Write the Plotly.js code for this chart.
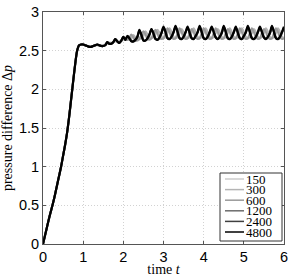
<!DOCTYPE html>
<html>
<head>
<meta charset="utf-8">
<script src="https://cdn.plot.ly/plotly-3.0.1.min.js"></script>
<style>html,body{margin:0;padding:0;background:#fff;}#chart{width:291px;height:277px;}</style>
</head>
<body>
<div id="chart"></div>
<script>
// time axis (t)
var time = [0.00,0.05,0.10,0.15,0.20,0.25,0.30,0.35,0.40,0.45,0.50,0.55,0.60,0.65,0.70,0.75,0.80,0.85,0.90,0.95,
1.00,1.05,1.10,1.15,1.20,1.25,1.30,1.35,1.40,1.45,1.50,1.55,1.60,1.65,1.70,1.75,1.80,1.85,1.90,1.95,
2.00,2.05,2.10,2.15,2.20,2.25,2.30,2.35,2.40,2.45,2.50,2.55,2.60,2.65,2.70,2.75,2.80,2.85,2.90,2.95,
3.00,3.05,3.10,3.15,3.20,3.25,3.30,3.35,3.40,3.45,3.50,3.55,3.60,3.65,3.70,3.75,3.80,3.85,3.90,3.95,
4.00,4.05,4.10,4.15,4.20,4.25,4.30,4.35,4.40,4.45,4.50,4.55,4.60,4.65,4.70,4.75,4.80,4.85,4.90,4.95,
5.00,5.05,5.10,5.15,5.20,5.25,5.30,5.35,5.40,5.45,5.50,5.55,5.60,5.65,5.70,5.75,5.80,5.85,5.90,5.95,6.00];

var p150 = [0.00,0.11,0.22,0.33,0.43,0.53,0.64,0.76,0.88,1.00,1.14,1.28,1.44,1.64,1.87,2.10,2.32,2.50,2.57,2.58,
2.58,2.57,2.56,2.56,2.56,2.56,2.57,2.57,2.57,2.57,2.57,2.58,2.59,2.60,2.60,2.61,2.62,2.62,2.62,2.63,
2.64,2.65,
2.65,2.65,2.66,2.68,2.67,2.66,
2.67,2.67,2.69,2.72,2.70,2.68,
2.68,2.68,2.71,2.75,2.72,2.69,
2.67,2.69,2.73,2.77,2.73,2.68,
2.67,2.69,2.73,2.76,2.73,2.68,
2.67,2.69,2.73,2.77,2.73,2.68,
2.67,2.69,2.73,2.77,2.73,2.68,
2.67,2.69,2.73,2.76,2.73,2.68,
2.67,2.69,2.73,2.77,2.73,2.68,
2.67,2.69,2.73,2.77,2.73,2.68,
2.67,2.69,2.73,2.76,2.73,2.68,
2.67,2.69,2.73,2.77,2.73,2.68,
2.67,2.69,2.73,2.77,2.73,2.68,
2.67];

var p300 = [0.00,0.11,0.22,0.33,0.43,0.53,0.64,0.76,0.88,1.00,1.14,1.28,1.44,1.64,1.87,2.10,2.32,2.50,2.57,2.58,
2.58,2.57,2.56,2.56,2.55,2.56,2.57,2.57,2.57,2.57,2.57,2.58,2.60,2.60,2.60,2.61,2.63,2.62,2.61,2.63,
2.66,2.65,
2.64,2.65,2.67,2.70,2.67,2.65,
2.65,2.67,2.71,2.75,2.71,2.66,
2.66,2.68,2.73,2.77,2.73,2.67,
2.66,2.68,2.74,2.79,2.74,2.67,
2.66,2.68,2.74,2.78,2.74,2.67,
2.66,2.68,2.74,2.79,2.74,2.67,
2.66,2.68,2.74,2.79,2.74,2.67,
2.66,2.68,2.74,2.78,2.74,2.67,
2.66,2.68,2.74,2.79,2.74,2.67,
2.66,2.68,2.74,2.79,2.74,2.67,
2.66,2.68,2.74,2.78,2.74,2.67,
2.66,2.68,2.74,2.79,2.74,2.67,
2.66,2.68,2.74,2.79,2.74,2.67,
2.66];

var p600 = [0.00,0.11,0.22,0.33,0.43,0.53,0.64,0.76,0.88,1.00,1.14,1.28,1.44,1.64,1.87,2.10,2.32,2.50,2.57,2.58,
2.58,2.57,2.56,2.55,2.55,2.56,2.57,2.58,2.57,2.56,2.56,2.57,2.60,2.59,2.59,2.61,2.64,2.62,2.60,2.63,
2.67,2.64,
2.64,2.67,2.71,2.67,2.63,2.63,
2.65,2.70,2.75,2.71,2.65,2.64,
2.66,2.72,2.77,2.72,2.66,2.65,
2.66,2.73,2.79,2.74,2.67,2.65,
2.66,2.73,2.79,2.74,2.67,2.65,
2.66,2.73,2.78,2.74,2.67,2.65,
2.66,2.73,2.79,2.74,2.67,2.65,
2.66,2.73,2.79,2.74,2.67,2.65,
2.66,2.73,2.78,2.74,2.67,2.65,
2.66,2.73,2.79,2.74,2.67,2.65,
2.66,2.73,2.79,2.74,2.67,2.65,
2.66,2.73,2.78,2.74,2.67,2.65,
2.66,2.73,2.79,2.74,2.67,2.65,
2.66];

var p1200 = [0.00,0.11,0.22,0.33,0.43,0.53,0.64,0.76,0.88,1.00,1.14,1.28,1.44,1.64,1.87,2.10,2.32,2.50,2.57,2.58,
2.58,2.57,2.56,2.55,2.55,2.56,2.57,2.58,2.57,2.56,2.56,2.57,2.61,2.59,2.59,2.61,2.65,2.62,2.60,2.63,
2.68,2.64,
2.68,2.67,2.63,2.62,2.63,2.67,
2.75,2.72,2.64,2.63,2.65,2.70,
2.77,2.74,2.66,2.64,2.66,2.72,
2.79,2.76,2.67,2.65,2.67,2.73,
2.80,2.76,2.67,2.65,2.67,2.73,
2.79,2.75,2.67,2.65,2.68,2.73,
2.80,2.76,2.67,2.65,2.67,2.73,
2.79,2.76,2.68,2.65,2.67,2.72,
2.80,2.76,2.67,2.65,2.67,2.73,
2.79,2.75,2.67,2.65,2.68,2.73,
2.80,2.76,2.67,2.65,2.67,2.73,
2.79,2.76,2.68,2.65,2.67,2.72,
2.80,2.76,2.67,2.65,2.67,2.73,
2.79];

var p2400 = [0.00,0.11,0.22,0.33,0.43,0.53,0.64,0.76,0.88,1.00,1.14,1.28,1.44,1.64,1.87,2.10,2.32,2.50,2.57,2.58,
2.58,2.57,2.56,2.55,2.55,2.56,2.57,2.58,2.57,2.56,2.56,2.57,2.61,2.59,2.59,2.61,2.65,2.62,2.60,2.63,
2.68,2.64,
2.69,2.66,2.62,2.62,2.64,2.68,
2.76,2.70,2.63,2.63,2.66,2.71,
2.78,2.72,2.65,2.64,2.67,2.73,
2.80,2.74,2.66,2.65,2.68,2.74,
2.81,2.74,2.66,2.65,2.68,2.74,
2.80,2.73,2.66,2.65,2.69,2.74,
2.81,2.74,2.66,2.65,2.68,2.74,
2.80,2.74,2.67,2.65,2.68,2.73,
2.81,2.74,2.66,2.65,2.68,2.74,
2.80,2.73,2.66,2.65,2.69,2.74,
2.81,2.74,2.66,2.65,2.68,2.74,
2.80,2.74,2.67,2.65,2.68,2.73,
2.81,2.74,2.66,2.65,2.68,2.74,
2.80];

var p4800 = [0.00,0.11,0.22,0.33,0.43,0.53,0.64,0.76,0.88,1.00,1.14,1.28,1.44,1.64,1.87,2.10,2.32,2.50,2.57,2.58,
2.58,2.57,2.56,2.55,2.55,2.56,2.57,2.58,2.57,2.56,2.56,2.57,2.61,2.59,2.59,2.61,2.65,2.62,2.60,2.63,
2.68,2.64,
2.69,2.66,2.62,2.62,2.64,2.68,
2.77,2.70,2.63,2.63,2.66,2.71,
2.78,2.72,2.65,2.64,2.67,2.73,
2.81,2.74,2.66,2.65,2.68,2.74,
2.82,2.74,2.66,2.65,2.68,2.74,
2.81,2.73,2.66,2.65,2.69,2.74,
2.82,2.74,2.66,2.65,2.68,2.74,
2.81,2.74,2.67,2.65,2.68,2.73,
2.82,2.74,2.66,2.65,2.68,2.74,
2.81,2.73,2.66,2.65,2.69,2.74,
2.82,2.74,2.66,2.65,2.68,2.74,
2.81,2.74,2.67,2.65,2.68,2.73,
2.82,2.74,2.66,2.65,2.68,2.74,
2.81];

var seriesNames = ['150','300','600','1200','2400','4800'];
var seriesValues = [p150, p300, p600, p1200, p2400, p4800];
var seriesColors = ['#cccccc','#b4b4b4','#9a9a9a','#6c6c6c','#404040','#000000'];
var seriesWidths = [2.2, 2.2, 2, 2, 2, 2.2];

var xTicks = [0,1,2,3,4,5,6];
var yTicks = [0,0.5,1,1.5,2,2.5,3];
var yTickText = ['0','0.5','1','1.5','2','2.5','3'];

var traces = seriesNames.map(function(n, i){
  return {x: time, y: seriesValues[i], type:'scatter', mode:'lines', name:n,
    line:{color:seriesColors[i], width:seriesWidths[i], shape:'spline', smoothing:0.8},
    showlegend:false, hoverinfo:'skip'};
});

var W = 291, H = 277;
var M = {l:43, r:7, t:12, b:33};
var pw = W - M.l - M.r, ph = H - M.t - M.b;
function px(x){ return (x - M.l)/pw; }
function py(y){ return (H - M.b - y)/ph; }

// compact legend box (MATLAB style)
var shapes = [{type:'rect', xref:'paper', yref:'paper', x0:px(220), x1:px(282), y0:py(241), y1:py(173),
  fillcolor:'#ffffff', line:{color:'#333333', width:1}, layer:'above'}];
var annotations = [];
seriesNames.forEach(function(n, i){
  var yc = 179 + i*10.6;
  shapes.push({type:'line', xref:'paper', yref:'paper', x0:px(225), x1:px(244), y0:py(yc), y1:py(yc),
    line:{color:seriesColors[i], width:1.5}, layer:'above'});
  annotations.push({xref:'paper', yref:'paper', x:px(243.5), y:py(yc), xanchor:'left', yanchor:'middle',
    text:n, showarrow:false, font:{family:'Liberation Serif', size:13, color:'#000'}});
});

var layout = {
  width:W, height:H, margin:M, paper_bgcolor:'#fff', plot_bgcolor:'#fff',
  showlegend:false,
  xaxis:{range:[0,6], tickvals:xTicks, ticktext:xTicks.map(String), ticks:'inside', ticklen:3, tickcolor:'#555',
    showline:true, linecolor:'#555', linewidth:1, mirror:'ticks',
    showgrid:true, gridcolor:'#d2d2d2', griddash:'1px,2px', gridwidth:1, zeroline:false,
    tickfont:{family:'Liberation Sans', size:14.5, color:'#000'},
    title:{text:'time <i>t</i>', font:{family:'Liberation Serif', size:14, color:'#000'}, standoff:2}},
  yaxis:{range:[0,3], tickvals:yTicks, ticktext:yTickText, ticks:'inside', ticklen:3, tickcolor:'#555',
    showline:true, linecolor:'#555', linewidth:1, mirror:'ticks',
    showgrid:true, gridcolor:'#d2d2d2', griddash:'1px,2px', gridwidth:1, zeroline:false,
    tickfont:{family:'Liberation Sans', size:14.5, color:'#000'},
    title:{text:'pressure difference Δ<i>p</i>', font:{family:'Liberation Serif', size:14, color:'#000'}, standoff:4}},
  shapes:shapes, annotations:annotations
};

Plotly.newPlot('chart', traces, layout, {displayModeBar:false, staticPlot:true});
</script>
</body>
</html>
